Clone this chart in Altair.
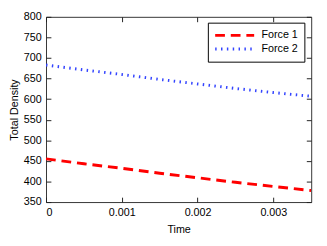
import altair as alt
import pandas as pd

time = [0, 0.0005, 0.001, 0.0015, 0.002, 0.0025, 0.003, 0.0035]
force1 = [455, 443, 432, 420, 409, 398, 388, 378]
force2 = [683, 671, 660, 648, 637, 626, 616, 607]
series_names = ["Force 1", "Force 2"]
x_ticks = [0, 0.001, 0.002, 0.003]
y_ticks = [350, 400, 450, 500, 550, 600, 650, 700, 750, 800]

rows = []
for t, a, b in zip(time, force1, force2):
    rows.append({"Time": t, "Total Density": a, "series": series_names[0]})
    rows.append({"Time": t, "Total Density": b, "series": series_names[1]})
df = pd.DataFrame(rows)

FONT = "Liberation Sans"
xscale = alt.Scale(domain=[0, 0.0035], nice=False, zero=False)
yscale = alt.Scale(domain=[350, 800], nice=False, zero=False)

lines = alt.Chart(df).mark_line(strokeWidth=3, clip=True).encode(
    x=alt.X("Time:Q", scale=xscale,
            axis=alt.Axis(values=x_ticks, format="~g", orient="bottom", offset=-5,
                          tickSize=5, domain=False, labelPadding=5, title="Time",
                          titlePadding=6)),
    y=alt.Y("Total Density:Q", scale=yscale,
            axis=alt.Axis(values=y_ticks, orient="left", offset=-5, tickSize=5,
                          domain=False, labelPadding=5, title="Total Density",
                          titlePadding=4)),
    color=alt.Color("series:N", scale=alt.Scale(domain=series_names, range=["#ff0000", "#3344ff"]),
                    legend=alt.Legend(title=None, orient="none", legendX=166, legendY=6,
                                      strokeColor="#000", fillColor="#fff", padding=6,
                                      symbolType="stroke", symbolSize=1600,
                                      symbolStrokeWidth=3, clipHeight=14,
                                      labelFont=FONT, labelFontSize=11, labelColor="#000",
                                      labelOffset=6, rowPadding=0)),
    strokeDash=alt.StrokeDash("series:N", scale=alt.Scale(domain=series_names, range=[[10, 6], [1.5, 4.5]]),
                              legend=None),
    detail="series:N",
)

frame = alt.Chart(df).mark_point(opacity=0).encode(
    x=alt.X("Time:Q", scale=xscale,
            axis=alt.Axis(values=x_ticks, orient="top", offset=-5, tickSize=5,
                          domain=False, labels=False, title=None)),
    y=alt.Y("Total Density:Q", scale=yscale,
            axis=alt.Axis(values=y_ticks, orient="right", offset=-5, tickSize=5,
                          domain=False, labels=False, title=None)),
)

chart = alt.layer(frame, lines).resolve_axis(x="independent", y="independent").properties(
    width=272, height=190,
    autosize=alt.AutoSizeParams(type="none"),
    padding={"left": 39, "top": 6, "right": 8, "bottom": 42},
).configure_view(stroke="#333", strokeWidth=1).configure_axis(
    labelFont=FONT, titleFont=FONT, labelFontSize=11, titleFontSize=11,
    labelColor="#000", titleColor="#000", titleFontWeight="normal",
    tickColor="#222", grid=False,
)

chart.save("out.html", embed_options={"renderer": "svg", "actions": False})
